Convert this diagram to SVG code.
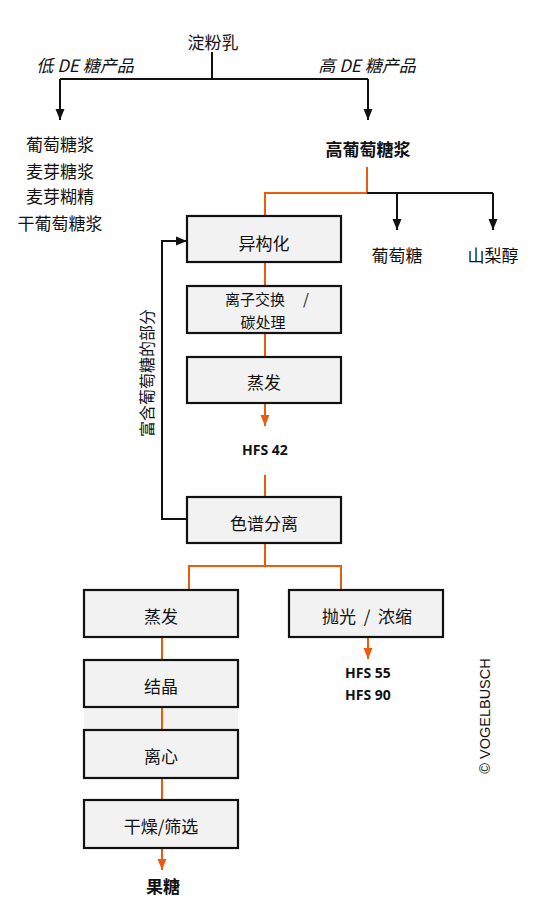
<svg xmlns="http://www.w3.org/2000/svg" width="546" height="900" viewBox="0 0 546 900">
<defs>
<style>
.t{font-family:"Noto Sans CJK SC","Noto Sans",sans-serif;font-size:17px;fill:#111;text-anchor:middle;dominant-baseline:central}
.s{font-size:16px}
.xs{font-size:15px}
.it{font-style:italic}
.b{font-weight:bold}
.h{font-family:"Open Sans","Noto Sans",sans-serif;font-size:14px;font-weight:bold;fill:#111;text-anchor:middle;dominant-baseline:central}
.box{fill:#f2f2f2;stroke:#111;stroke-width:2.2}
.k{fill:none;stroke:#111;stroke-width:2}
.o{fill:none;stroke:#ea5b0c;stroke-width:2}
</style>
<marker id="ak" markerUnits="userSpaceOnUse" markerWidth="12" markerHeight="12" viewBox="0 0 12 12" refX="11" refY="6" orient="auto"><path d="M0,1.5 L11,6 L0,10.5 Z" fill="#111"/></marker>
<marker id="ao" markerUnits="userSpaceOnUse" markerWidth="12" markerHeight="12" viewBox="0 0 12 12" refX="11" refY="6" orient="auto"><path d="M0,1.5 L11,6 L0,10.5 Z" fill="#ea5b0c"/></marker>
</defs>
<rect width="546" height="900" fill="#fff"/>

<g id="connectors">
<path class="k" d="M212,52 V79"/>
<path class="k" d="M60,79 H368"/>
<path class="k" d="M60,79 V120" marker-end="url(#ak)"/>
<path class="k" d="M368,79 V120" marker-end="url(#ak)"/>
<path class="o" d="M367,167 V193 H265 V216"/>
<path class="k" d="M367,193 H493"/>
<path class="k" d="M397,193 V230" marker-end="url(#ak)"/>
<path class="k" d="M493,193 V230" marker-end="url(#ak)"/>
<path class="o" d="M265,262 V286"/>
<path class="o" d="M265,333 V357"/>
<path class="o" d="M265,403 V426" marker-end="url(#ao)"/>
<path class="o" d="M265,475 V497"/>
<path class="k" d="M187,519 H162 V241 H187" marker-end="url(#ak)"/>
<path class="o" d="M265,543 V566 M189,566 H341 M189,565 V590 M341,565 V590"/>
<path class="o" d="M368,637 V659" marker-end="url(#ao)"/>
<path class="o" d="M162,637 V660"/>
<path class="o" d="M162,778 V800"/>
<path class="o" d="M162,848 V870" marker-end="url(#ao)"/>
</g>

<g id="n-starch"><text class="t" x="213" y="41">淀粉乳</text></g>
<g id="l-low"><text class="t it" x="85" y="64">低 DE 糖产品</text></g>
<g id="l-high"><text class="t it" x="367" y="64">高 DE 糖产品</text></g>
<g id="n-lowlist">
<text class="t" x="60" y="143">葡萄糖浆</text>
<text class="t" x="60" y="170">麦芽糖浆</text>
<text class="t" x="60" y="195">麦芽糊精</text>
<text class="t" x="60" y="222">干葡萄糖浆</text>
</g>
<g id="n-hgs"><text class="t b" x="368" y="148">高葡萄糖浆</text></g>
<g id="n-glucose"><text class="t" x="397" y="254">葡萄糖</text></g>
<g id="n-sorbitol"><text class="t" x="493" y="254">山梨醇</text></g>

<g id="n-iso"><rect class="box" x="187" y="216" width="154" height="46"/><text class="t" x="264" y="242">异构化</text></g>
<g id="n-ion"><rect class="box" x="187" y="286" width="154" height="47"/><text class="t xs" x="255" y="298.5">离子交换</text><text class="t xs" x="306" y="298.5">/</text><text class="t xs" x="263" y="321.5">碳处理</text></g>
<g id="n-evap1"><rect class="box" x="187" y="357" width="154" height="46"/><text class="t" x="264" y="381">蒸发</text></g>
<g id="n-hfs42"><text class="h" x="265" y="449">HFS 42</text></g>
<g id="n-chrom"><rect class="box" x="187" y="497" width="154" height="46"/><text class="t" x="264" y="522">色谱分离</text></g>
<g id="l-rich"><text class="t s" transform="translate(146,373) rotate(-90)">富含葡萄糖的部分</text></g>

<g id="n-evap2"><rect class="box" x="84" y="590" width="154" height="47"/><text class="t" x="161" y="615">蒸发</text></g>
<g id="n-polish"><rect class="box" x="289" y="590" width="154" height="47"/><text class="t" x="339" y="615">抛光</text><text class="t" x="367" y="615">/</text><text class="t" x="395" y="615">浓缩</text></g>
<g id="n-hfs5590"><text class="h" x="368" y="672">HFS 55</text><text class="h" x="368" y="694">HFS 90</text></g>

<rect x="84" y="707" width="154" height="23" fill="#f2f2f2"/>
<path class="o" d="M162,707 V730"/>
<g id="n-cryst"><rect class="box" x="84" y="660" width="154" height="47"/><text class="t" x="161" y="685">结晶</text></g>
<g id="n-centri"><rect class="box" x="84" y="730" width="154" height="48"/><text class="t" x="161" y="755">离心</text></g>
<g id="n-dry"><rect class="box" x="84" y="800" width="154" height="48"/><text class="t" x="161" y="825">干燥/筛选</text></g>
<g id="n-fructose"><text class="t b" x="163" y="885">果糖</text></g>

<g id="copyright"><text transform="translate(485,716) rotate(-90)" font-family="Liberation Sans, Arial, sans-serif" font-size="14.5" fill="#111" text-anchor="middle" dominant-baseline="central">© VOGELBUSCH</text></g>
</svg>
